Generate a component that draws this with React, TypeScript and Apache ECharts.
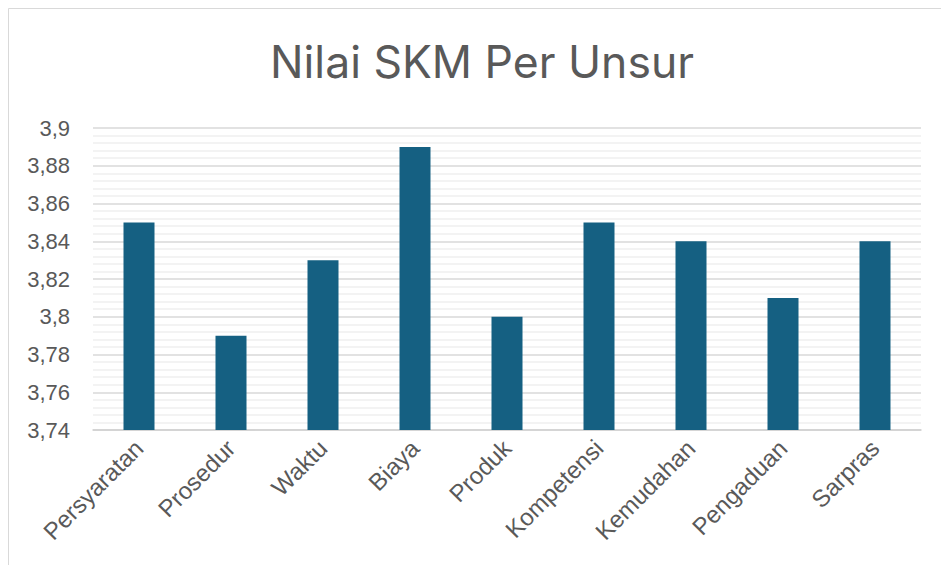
import React, { useEffect, useRef } from "react";
import * as echarts from "echarts";

const categories = ["Persyaratan", "Prosedur", "Waktu", "Biaya", "Produk", "Kompetensi", "Kemudahan", "Pengaduan", "Sarpras"];
const values = [3.85, 3.79, 3.83, 3.89, 3.8, 3.85, 3.84, 3.81, 3.84];
const titleText = "Nilai SKM Per Unsur";

export default function App() {
  const ref = useRef<HTMLDivElement>(null);
  useEffect(() => {
    if (!ref.current) return;
    const chart = echarts.init(ref.current, undefined, { renderer: "svg" });
    const titleFont = "Inter, 'Noto Sans', sans-serif";
    const font = "'Liberation Sans', Arial, sans-serif";
    chart.setOption({
      animation: false,
      backgroundColor: "#ffffff",
      title: {
        text: titleText,
        left: 469,
        textAlign: "center",
        top: 26,
        textStyle: { fontFamily: titleFont, fontSize: 44.5, fontWeight: "normal", color: "#595959" },
      },
      graphic: [
        {
          type: "rect",
          shape: { x: 0.5, y: 0.5, width: 1400, height: 1400 },
          style: { fill: "none", stroke: "#d9d9d9", lineWidth: 1 },
          silent: true,
          z: -1,
        },
      ],
      grid: { left: 85, right: 20, top: 120, bottom: 135, containLabel: false },
      xAxis: {
        type: "category",
        data: categories,
        axisLine: { show: true, lineStyle: { color: "#d0d0d0", width: 1.5 } },
        axisTick: { show: false },
        axisLabel: { rotate: 45, margin: 14, fontFamily: font, fontSize: 24, color: "#595959", interval: 0 },
      },
      yAxis: {
        type: "value",
        min: 3.74,
        max: 3.9,
        interval: 0.02,
        axisLine: { show: false },
        axisTick: { show: false },
        axisLabel: {
          margin: 23,
          fontFamily: font,
          fontSize: 22,
          color: "#595959",
          formatter: (v: number) => String(+v.toFixed(2)).replace(".", ","),
        },
        splitLine: { show: true, lineStyle: { color: "#d9d9d9", width: 1.5 } },
        minorTick: { show: false, splitNumber: 5 },
        minorSplitLine: { show: true, lineStyle: { color: "#efefef", width: 1.5 } },
      },
      series: [
        {
          type: "bar",
          data: values,
          barWidth: 31,
          itemStyle: { color: "#156082" },
        },
      ],
    });
    return () => chart.dispose();
  }, []);
  return (
    <div
      ref={ref}
      style={{ position: "absolute", left: 8, top: 8, width: 933, height: 557, overflow: "hidden" }}
    />
  );
}
